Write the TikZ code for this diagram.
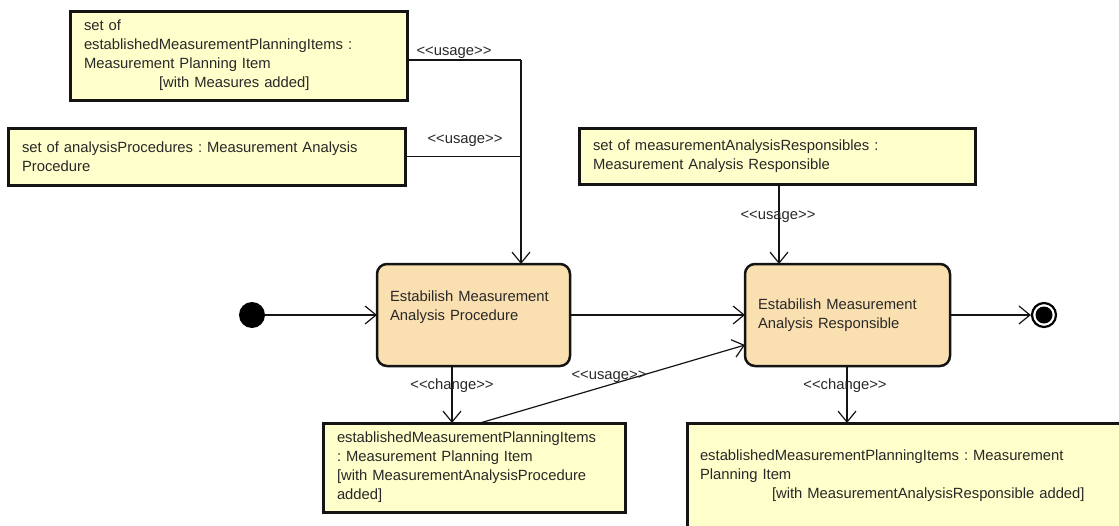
\documentclass[tikz,border=0pt]{standalone}
\usepackage{fontspec}
\setmainfont{Liberation Sans}
\usetikzlibrary{arrows.meta}
\definecolor{objfill}{RGB}{255,255,204}
\definecolor{actfill}{RGB}{250,224,176}
\definecolor{txt}{RGB}{40,40,40}
\definecolor{edge}{RGB}{20,20,20}
\tikzset{
  every node/.style={font=\fontsize{14.8}{19}\selectfont\frenchspacing, text=txt},
  objbox/.style={draw=edge, line width=3pt, fill=objfill, anchor=north west,
    align=left, inner xsep=14pt, inner ysep=0pt, outer sep=0pt},
  actbox/.style={draw=edge, line width=2.5pt, fill=actfill, rounded corners=10pt,
    anchor=north west, align=left, inner xsep=13pt, inner ysep=0pt, outer sep=0pt},
  conn/.style={draw=edge, line width=1.2pt},
  arr/.style={conn, -{Straight Barb[length=11pt,width=18pt,line width=1.2pt]}},
  lbl/.style={inner sep=0pt},
}
\begin{document}
\begin{tikzpicture}[x=1pt,y=-1pt]
\useasboundingbox (0,0) rectangle (1119,525);
\clip (0,0) rectangle (1119,525);

% object boxes
\node[objbox, text width=309pt, minimum height=89pt] (b1) at (70,11)
  {set of\\establishedMeasurementPlanningItems :\\Measurement Planning Item\\\hspace*{75pt}[with Measures added]};
\node[objbox, text width=369pt, minimum height=57pt] (b2) at (8,128)
  {set of analysisProcedures : Measurement Analysis\\Procedure};
\node[objbox, text width=368pt, minimum height=56pt] (b3) at (579,128)
  {set of measurementAnalysisResponsibles :\\Measurement Analysis Responsible};
\node[objbox, text width=274pt, minimum height=89pt] (bl) at (323,423)
  {establishedMeasurementPlanningItems\\: Measurement Planning Item\\{}[with MeasurementAnalysisProcedure\\added]};
\node[objbox, inner xsep=13pt, text width=422pt, minimum height=106pt] (br) at (687,423)
  {establishedMeasurementPlanningItems : Measurement\\Planning Item\\\hspace*{72pt}[with MeasurementAnalysisResponsible added]};

% action boxes
\node[actbox, text width=167pt, minimum height=102pt] (proc) at (377,264)
  {Estabilish Measurement\\Analysis Procedure\\\mbox{}};
\node[actbox, text width=179pt, minimum height=102pt] (resp) at (745,264)
  {Estabilish Measurement\\Analysis Responsible};

% initial and final nodes
\node[circle, fill=black, minimum size=26pt, inner sep=0pt] (init) at (252,315) {};
\node[circle, draw=black, line width=2.2pt, fill=white, minimum size=24pt, inner sep=0pt] (final) at (1044,315) {};
\fill[black] (final.center) circle (8.5pt);

% junction coordinates
\coordinate (j1) at (521,60);
\coordinate (j3) at (779,0);
\coordinate (jp) at (452,0);
\coordinate (jr) at (847,0);
\coordinate (blout) at (480,423);
\coordinate (rsin) at (745,345);

% connectors
\draw[arr] (init) -- (proc.west |- init);
\draw[conn] ([yshift=-4.5pt]b1.east) -- (j1);
\draw[conn] (b2.east) -- (b2.east -| j1);
\draw[arr] (j1) -- (j1 |- proc.north);
\draw[arr] (b3.south -| j3) -- (resp.north -| j3);
\draw[arr] (proc.east |- init) -- (resp.west |- init);
\draw[arr] (resp.east |- final) -- (final.west);
\draw[arr] (proc.south -| jp) -- (bl.north -| jp);
\draw[arr] (blout) -- (rsin);
\draw[arr] (resp.south -| jr) -- (br.north -| jr);

% labels
\node[lbl] (l1) at (454,53) {<{}<usage>{}>};
\node[lbl] (l2) at (465,141) {<{}<usage>{}>};
\node[lbl] (l3) at (778,217) {<{}<usage>{}>};
\node[lbl] (l4) at (452,386) {<{}<change>{}>};
\node[lbl] (l5) at (609,377) {<{}<usage>{}>};
\node[lbl] (l6) at (845,386) {<{}<change>{}>};
\end{tikzpicture}
\end{document}
